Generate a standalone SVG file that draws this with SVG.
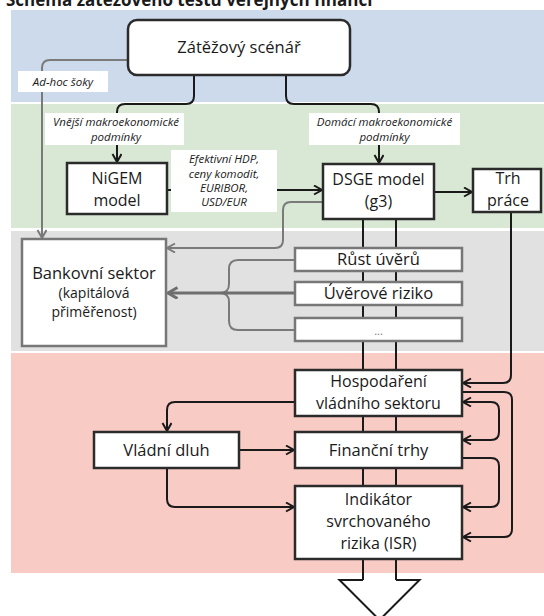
<svg xmlns="http://www.w3.org/2000/svg" width="544" height="616" viewBox="0 0 544 616">
  <style>
    .band-blue { fill: #ccdaec; }
    .band-green { fill: #d8e8d4; }
    .band-grey { fill: #e1e1e1; }
    .band-red { fill: #f8cbc4; }
    .box { fill: #ffffff; stroke: #2b2b2b; stroke-width: 2.5; }
    .box-grey { fill: #ffffff; stroke: #777777; stroke-width: 2.5; }
    .lbl { fill: #ffffff; stroke: none; }
    .t { font-family: "Open Sans", "Noto Sans", "DejaVu Sans", sans-serif; font-size: 16.5px; fill: #1a1a1a; text-anchor: middle; }
    .t2 { font-family: "Open Sans", "Noto Sans", "DejaVu Sans", sans-serif; font-size: 16px; fill: #1a1a1a; text-anchor: middle; }
    .ts { font-family: "Open Sans", "Noto Sans", "DejaVu Sans", sans-serif; font-size: 14px; fill: #1a1a1a; text-anchor: middle; }
    .ti { font-family: "Open Sans", "Noto Sans", "DejaVu Sans", sans-serif; font-size: 11.5px; font-style: italic; fill: #1a1a1a; text-anchor: middle; }
    .title { font-family: "Open Sans", "Noto Sans", "DejaVu Sans", sans-serif; font-size: 17px; font-weight: bold; fill: #1a1a1a; }
    .c { fill: none; stroke: #1a1a1a; stroke-width: 2; }
    .cg { fill: none; stroke: #7a7a7a; stroke-width: 2; }
    .cg3 { fill: none; stroke: #6e6e6e; stroke-width: 3; }
  </style>
  <defs>
    <marker id="ah" markerUnits="userSpaceOnUse" markerWidth="12" markerHeight="12" refX="9" refY="5" orient="auto-start-reverse">
      <path d="M1,0.5 L9,5 L1,9.5" fill="none" stroke="#1a1a1a" stroke-width="2"/>
    </marker>
    <marker id="ahg" markerUnits="userSpaceOnUse" markerWidth="12" markerHeight="12" refX="9" refY="5" orient="auto">
      <path d="M1,0.5 L9,5 L1,9.5" fill="none" stroke="#7a7a7a" stroke-width="2"/>
    </marker>
    <marker id="ahg3" markerUnits="userSpaceOnUse" markerWidth="14" markerHeight="14" refX="11" refY="6" orient="auto">
      <path d="M1.5,0.5 L11,6 L1.5,11.5" fill="none" stroke="#6e6e6e" stroke-width="3"/>
    </marker>
  </defs>

  <!-- title (partly above the top edge) -->
  <text class="title" x="6" y="6">Schéma zátěžového testu veřejných financí</text>

  <!-- background bands -->
  <g id="bands">
    <rect class="band-blue" x="11" y="10" width="533" height="92"/>
    <rect class="band-green" x="11" y="104" width="533" height="124"/>
    <rect class="band-grey" x="11" y="231" width="533" height="120"/>
    <rect class="band-red" x="11" y="353" width="533" height="220"/>
  </g>

  <!-- connectors -->
  <g id="connectors">
    <!-- wide output arrow through the model chain -->
    <line class="c" x1="363" y1="219" x2="363" y2="580"/>
    <line class="c" x1="396" y1="219" x2="396" y2="580"/>
    <path d="M363,580 H339.5 L379.5,620 L419.5,580 H396" fill="#ffffff" stroke="#1a1a1a" stroke-width="2"/>

    <path class="c" d="M194,75 V96 Q194,104 186,104 H125 Q117,104 117,112 V162" marker-end="url(#ah)"/>
    <path class="c" d="M286,75 V96 Q286,104 294,104 H371 Q379,104 379,112 V163" marker-end="url(#ah)"/>
    <path class="cg" d="M128,60 H50 Q42,60 42,68 V238" marker-end="url(#ahg)"/>
    <path class="c" d="M167,190 H322" marker-end="url(#ah)"/>
    <path class="c" d="M434,192 H472" marker-end="url(#ah)"/>
    <path class="cg" d="M323,202 H291 Q283,202 283,210 V240 Q283,248 275,248 H167" marker-end="url(#ahg)"/>
    <path class="cg" d="M295,260 H238 Q229,260 229,269 V284 Q229,293 220,293"/>
    <path class="cg" d="M295,330 H238 Q229,330 229,321 V302 Q229,293 220,293"/>
    <path class="cg3" d="M295,293 H168" marker-end="url(#ahg3)"/>

    <path class="c" d="M511,212 V375 Q511,383 503,383 H463" marker-end="url(#ah)"/>
    <path class="c" d="M462,392 H504 Q512,392 512,400 V529 Q512,537 504,537 H463" marker-end="url(#ah)"/>
    <path class="c" d="M463,402 H491 Q499,402 499,410 V432 Q499,440 491,440 H463" marker-start="url(#ah)" marker-end="url(#ah)"/>
    <path class="c" d="M462,458 H491 Q499,458 499,466 V499 Q499,507 491,507 H463" marker-end="url(#ah)"/>
    <path class="c" d="M295,402 H175 Q167,402 167,410 V431" marker-end="url(#ah)"/>
    <path class="c" d="M239,450 H294" marker-end="url(#ah)"/>
    <path class="c" d="M167,468 V499 Q167,507 175,507 H294" marker-end="url(#ah)"/>
  </g>

  <!-- connector labels -->
  <g id="label-adhoc">
    <rect class="lbl" x="18" y="71" width="90" height="21"/>
    <text class="ti" x="63" y="86">Ad-hoc šoky</text>
  </g>
  <g id="label-vnejsi">
    <rect class="lbl" x="45" y="113" width="139" height="32"/>
    <text class="ti" x="116" y="126">Vnější makroekonomické<tspan x="116" dy="15">podmínky</tspan></text>
  </g>
  <g id="label-domaci">
    <rect class="lbl" x="309" y="113" width="151" height="32"/>
    <text class="ti" x="384.5" y="126">Domácí makroekonomické<tspan x="384.5" dy="15">podmínky</tspan></text>
  </g>
  <g id="label-efektivni">
    <rect class="lbl" x="171" y="150" width="106" height="62"/>
    <text class="ti" x="224" y="163">Efektivní HDP,<tspan x="224" dy="15">ceny komodit,</tspan><tspan x="224" dy="14">EURIBOR,</tspan><tspan x="224" dy="14">USD/EUR</tspan></text>
  </g>

  <!-- nodes -->
  <g id="zatezovy-scenar">
    <rect class="box" x="128" y="20" width="222" height="55" rx="9"/>
    <text class="t" x="239" y="53">Zátěžový scénář</text>
  </g>
  <g id="nigem">
    <rect class="box" x="67" y="163" width="100" height="51"/>
    <text class="t2" x="117" y="184">NiGEM<tspan x="117" dy="22">model</tspan></text>
  </g>
  <g id="dsge">
    <rect class="box" x="323" y="164" width="111" height="55"/>
    <text class="t2" x="378.5" y="185">DSGE model<tspan x="378.5" dy="22">(g3)</tspan></text>
  </g>
  <g id="trh-prace">
    <rect class="box" x="473" y="169" width="68" height="43"/>
    <text class="t2" x="508" y="184">Trh<tspan x="508" dy="22">práce</tspan></text>
  </g>
  <g id="bankovni-sektor">
    <rect class="box-grey" x="22" y="239" width="144" height="107"/>
    <text class="t" x="94" y="279">Bankovní sektor</text>
    <text class="ts" x="94" y="298">(kapitálová<tspan x="94" dy="19">přiměřenost)</tspan></text>
  </g>
  <g id="rust-uveru">
    <rect class="box-grey" x="295" y="248" width="167" height="23"/>
    <text class="t" x="378.5" y="265">Růst úvěrů</text>
  </g>
  <g id="uverove-riziko">
    <rect class="box-grey" x="295" y="282" width="167" height="23"/>
    <text class="t" x="378.5" y="299">Úvěrové riziko</text>
  </g>
  <g id="dalsi">
    <rect class="box-grey" x="295" y="318" width="167" height="23"/>
    <text class="ts" x="378.5" y="335" style="font-size:11px;fill:#777">...</text>
  </g>
  <g id="hospodareni">
    <rect class="box" x="295" y="370" width="167" height="46"/>
    <text class="t2" x="378.5" y="387">Hospodaření<tspan x="378.5" dy="22">vládního sektoru</tspan></text>
  </g>
  <g id="vladni-dluh">
    <rect class="box" x="94" y="432" width="145" height="36"/>
    <text class="t" x="166.5" y="456">Vládní dluh</text>
  </g>
  <g id="financni-trhy">
    <rect class="box" x="295" y="432" width="167" height="36"/>
    <text class="t" x="378.5" y="456">Finanční trhy</text>
  </g>
  <g id="isr">
    <rect class="box" x="295" y="486" width="167" height="73"/>
    <text class="t2" x="378.5" y="505">Indikátor<tspan x="378.5" dy="22">svrchovaného</tspan><tspan x="378.5" dy="22">rizika (ISR)</tspan></text>
  </g>
</svg>
